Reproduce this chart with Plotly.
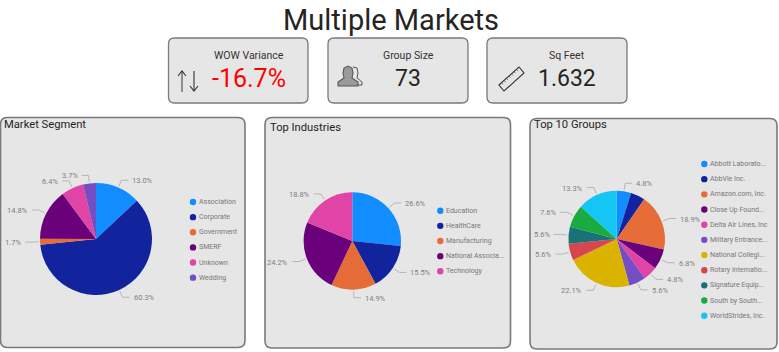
import math
import plotly.graph_objects as go

W, H = 779, 352
COLORS = ["#118DFF", "#12239E", "#E66C37", "#6B007B", "#E044A7", "#744EC2",
          "#D9B300", "#D64550", "#197278", "#1AAB40", "#15C6F4"]

market_labels = ["Association", "Corporate", "Government", "SMERF", "Unknown", "Wedding"]
market_values = [13.0, 60.3, 1.7, 14.8, 6.4, 3.7]

industry_labels = ["Education", "HealthCare", "Manufacturing", "National Associa...", "Technology"]
industry_values = [26.6, 15.5, 14.9, 24.2, 18.8]

group_labels = ["Abbott Laborato...", "AbbVie Inc.", "Amazon.com, Inc.", "Close Up Found...",
                "Delta Air Lines, Inc", "Military Entrance...", "National Collegi...",
                "Rotary Internatio...", "Signature Equip...", "South by South...", "WorldStrides, Inc."]
group_values = [4.8, 4.8, 18.9, 6.8, 4.8, 5.6, 22.1, 5.6, 5.6, 7.6, 13.3]
group_hidden_labels = ["AbbVie Inc."]

kpi_titles = ["WOW Variance", "Group Size", "Sq Feet"]
kpi_values = ["-16.7%", "73", "1.632"]

FONT = "Roboto"
BG = "#E6E6E6"
EDGE = "#7A7A7A"


def X(v):
    return v / W


def Y(v):
    return 1 - v / H


shapes, annotations = [], []


def text(x, y, s, size, color, anchor="left", family=FONT):
    annotations.append(dict(x=X(x), y=Y(y), xref="paper", yref="paper", text=s, showarrow=False,
                            xanchor=anchor, yanchor="middle", borderpad=0,
                            font=dict(family=family, size=size, color=color)))


def card(x0, y0, x1, y1, r=6, w=1.3):
    def P(a, b):
        return f"{X(a):.5f},{Y(b):.5f}"
    d = (f"M{P(x0 + r, y0)} L{P(x1 - r, y0)} Q{P(x1, y0)} {P(x1, y0 + r)} L{P(x1, y1 - r)} "
         f"Q{P(x1, y1)} {P(x1 - r, y1)} L{P(x0 + r, y1)} Q{P(x0, y1)} {P(x0, y1 - r)} "
         f"L{P(x0, y0 + r)} Q{P(x0, y0)} {P(x0 + r, y0)} Z")
    shapes.append(dict(type="path", path=d, xref="paper", yref="paper", fillcolor=BG,
                       line=dict(color=EDGE, width=w), layer="below"))


def poly(points, color="#444444", width=1, fill=None, close=False):
    d = "M" + " L".join(f"{X(a):.5f},{Y(b):.5f}" for a, b in points) + (" Z" if close else "")
    shapes.append(dict(type="path", path=d, xref="paper", yref="paper",
                       fillcolor=fill if fill else "rgba(0,0,0,0)", line=dict(color=color, width=width)))


def pie_panel(fig, labels, values, cx, cy, r, dot_x, dot_ys, hidden=()):
    fig.add_trace(go.Pie(labels=labels, values=values, sort=False, direction="clockwise", rotation=0,
                         textinfo="none", hoverinfo="label+percent", showlegend=False,
                         marker=dict(colors=COLORS[:len(labels)], line=dict(width=0)),
                         domain=dict(x=[X(cx - r), X(cx + r)], y=[Y(cy + r), Y(cy - r)])))
    total = sum(values)
    acc = 0
    for lab, v in zip(labels, values):
        a = 2 * math.pi * (acc + v / 2) / total
        acc += v
        if lab in hidden:
            continue
        sx, sy = math.sin(a), -math.cos(a)
        side = 1 if sx >= 0 else -1
        ex, ey = cx + (r + 8) * sx, cy + (r + 8) * sy
        poly([(cx + (r + 1.5) * sx, cy + (r + 1.5) * sy), (ex, ey), (ex + side * 7, ey)],
             color="#B5B5B5", width=1)
        text(ex + side * 10, ey + 0.5, f"{v:.1f}%", 7.5, "#808080", "left" if side > 0 else "right")
    for lab, c, dy in zip(labels, COLORS, dot_ys):
        shapes.append(dict(type="circle", xref="paper", yref="paper", x0=X(dot_x - 3.2), x1=X(dot_x + 3.2),
                           y0=Y(dy + 3.2), y1=Y(dy - 3.2), fillcolor=c, line=dict(width=0)))
        text(dot_x + 5, dy, lab, 7, "#777777")


fig = go.Figure()

# KPI cards
card(168.5, 38, 308, 103)
card(328, 38, 468, 103)
card(487, 38, 627, 103)
text(390.5, 20, "Multiple Markets", 29, "#252423", "center")
for cxk, t, v, col, sz in zip([249, 408, 567], kpi_titles, kpi_values,
                              ["#FF0000", "#252423", "#252423"], [25, 23, 23]):
    text(cxk, 55, t, 10.5, "#333333", "center")
    text(cxk, 79, v, sz, col, "center")

# arrows icon
poly([(182, 92), (182, 71)], color="#555555", width=1.2)
poly([(178, 76), (182, 71), (186, 76)], color="#333333", width=1.1)
poly([(194, 71), (194, 91)], color="#333333", width=1.1)
poly([(190, 86), (194, 91), (198, 86)], color="#333333", width=1.1)
# people icon
poly([(338, 86), (338, 82), (344, 78), (343, 73), (344, 68), (348, 66), (352, 68), (353, 73),
      (352, 78), (358, 82), (358, 86)], color="#555555", width=1.1, fill="#9A9A9A", close=True)
poly([(353, 67), (357, 68), (358, 73), (357, 78), (362, 82), (362, 85), (358, 85)], color="#555555", width=1)
# ruler icon
poly([(499, 85), (519, 67), (524, 73), (504, 91)], color="#333333", width=1.1, close=True)
for i in range(1, 8):
    ax, ay = 499 + i * 2.5, 85 - i * 2.25
    poly([(ax, ay), (ax + 1.6, ay + 1.8)], color="#555555", width=0.7)

# Chart panels
card(0.5, 117.5, 245, 347.5, r=7, w=1.6)
card(265, 117.5, 510.5, 348, r=7, w=1.6)
card(530, 118.5, 777, 349, r=7, w=1.6)
text(3, 124.5, "Market Segment", 11.2, "#252423")
text(268.5, 127, "Top Industries", 11.2, "#252423")
text(533, 124.5, "Top 10 Groups", 11.2, "#252423")

pie_panel(fig, market_labels, market_values, 96, 239, 56, 193,
          [202 + i * 15.13 for i in range(6)])
pie_panel(fig, industry_labels, industry_values, 352.3, 241, 48.7, 440.3,
          [210.7 + i * 15.15 for i in range(5)])
pie_panel(fig, group_labels, group_values, 616.7, 239, 48.3, 704.3,
          [164 + i * 15.17 for i in range(11)], hidden=group_hidden_labels)

fig.update_layout(width=W, height=H, margin=dict(l=0, r=0, t=0, b=0), paper_bgcolor="white",
                  shapes=shapes, annotations=annotations, showlegend=False)
fig.write_html("out.html", config=dict(displayModeBar=False),
               post_script="document.body.style.margin='0';document.body.style.overflow='hidden';")
